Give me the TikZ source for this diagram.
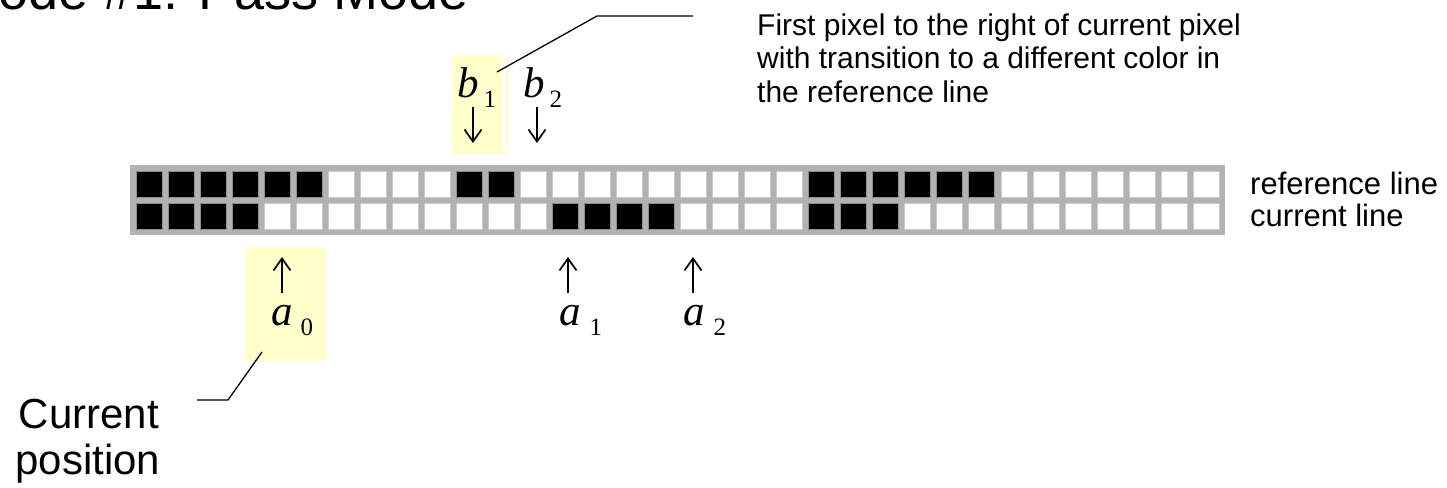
\documentclass[tikz,border=0pt]{standalone}
\usepackage{fontspec}
\setmainfont{Liberation Sans}
\newfontfamily\tms{Liberation Serif}
\usetikzlibrary{arrows.meta}
\definecolor{hl}{HTML}{FFFFCC}
\definecolor{gridgray}{HTML}{B2B2B2}
\definecolor{cellline}{HTML}{8C8C8C}
\newcommand\subs[1]{\raisebox{-10.5pt}{\fontsize{25}{25}\selectfont\upshape #1}}
\begin{document}
\begin{tikzpicture}[x=1pt,y=-1pt,
  txt/.style={inner sep=0pt, anchor=base west, font=\fontsize{30}{36}\selectfont},
  lbltxt/.style={inner sep=0pt, anchor=base west, font=\fontsize{31}{36}\selectfont},
  bigtxt/.style={inner sep=0pt, anchor=base, font=\fontsize{42}{46}\selectfont},
  mathlbl/.style={inner sep=0pt, anchor=base west, font=\fontsize{43}{43}\tms\itshape},
  ptr/.style={-{Straight Barb[length=12pt,width=17pt]}, line width=1.7pt},
  lead/.style={line width=1.3pt},
  whitecell/.style={fill=white, draw=cellline!45, line width=0.6pt},
  blackcell/.style={fill=black, draw=cellline, line width=0.6pt}]
\useasboundingbox (0,0) rectangle (1447,487);
\clip (0,0) rectangle (1447,487);

% title (cut off by the top and left edges)
\node[inner sep=0pt, anchor=base west, font=\fontsize{54}{54}\selectfont] (title) at (-47,10) {Mode \#1: Pass Mode};

% highlights
\fill[hl] (452,55) rectangle (508,154);
\fill[white] (502,57) rectangle (506,152);
\fill[hl] (245,247) rectangle (326,361);

% pixel grid
\fill[gridgray] (130,165) rectangle (1225,235);
\foreach \r in {0,1}
  \foreach \k in {0,...,33}
    \filldraw[whitecell] ({136+32.03*\k},{171+32*\r}) rectangle ++(26,26);
\foreach \k in {0,1,2,3,4,5,10,11,21,22,23,24,25,26}
  \filldraw[blackcell] ({136+32.03*\k},171) rectangle ++(26,26);
\foreach \k in {0,1,2,3,13,14,15,16,21,22,23}
  \filldraw[blackcell] ({136+32.03*\k},203) rectangle ++(26,26);

% row labels
\node[lbltxt] (refl) at (1250,194) {reference line};
\node[lbltxt] (curl) at (1250,226) {current line};

% b labels and arrows
\node[mathlbl] (b1) at (457,97) {b\kern5pt\subs{1}};
\node[mathlbl] (b2) at (523,97) {b\kern5pt\subs{2}};
\coordinate (b1s) at (473,107); \coordinate (b1e) at (473,143);
\coordinate (b2s) at (537,107); \coordinate (b2e) at (537,143);
\draw[ptr] (b1s) -- (b1e);
\draw[ptr] (b2s) -- (b2e);

% a labels and arrows
\node[mathlbl] (a0) at (271,325) {a\kern8pt\subs{0}};
\node[mathlbl] (a1) at (559,325) {a\kern9pt\subs{1}};
\node[mathlbl] (a2) at (683,325) {a\kern9pt\subs{2}};
\coordinate (a0s) at (282,293); \coordinate (a0e) at (282,257);
\coordinate (a1s) at (568,293); \coordinate (a1e) at (568,257);
\coordinate (a2s) at (693,293); \coordinate (a2e) at (693,257);
\draw[ptr] (a0s) -- (a0e);
\draw[ptr] (a1s) -- (a1e);
\draw[ptr] (a2s) -- (a2e);

% note for b1
\node[txt] (note1) at (757,36) {First pixel to the right of current pixel};
\node[txt] (note2) at (757,69) {with transition to a different color in};
\node[txt] (note3) at (757,102) {the reference line};
\coordinate (bl1) at (497,72); \coordinate (bl2) at (597,16); \coordinate (bl3) at (693,16);
\draw[lead] (bl1) -- (bl2) -- (bl3);

% current position
\node[bigtxt] (cur1) at (89,428) {Current};
\node[bigtxt] (cur2) at (88,474) {position};
\coordinate (al1) at (262,352); \coordinate (al2) at (228,400); \coordinate (al3) at (197,400);
\draw[lead] (al1) -- (al2) -- (al3);
\end{tikzpicture}
\end{document}
